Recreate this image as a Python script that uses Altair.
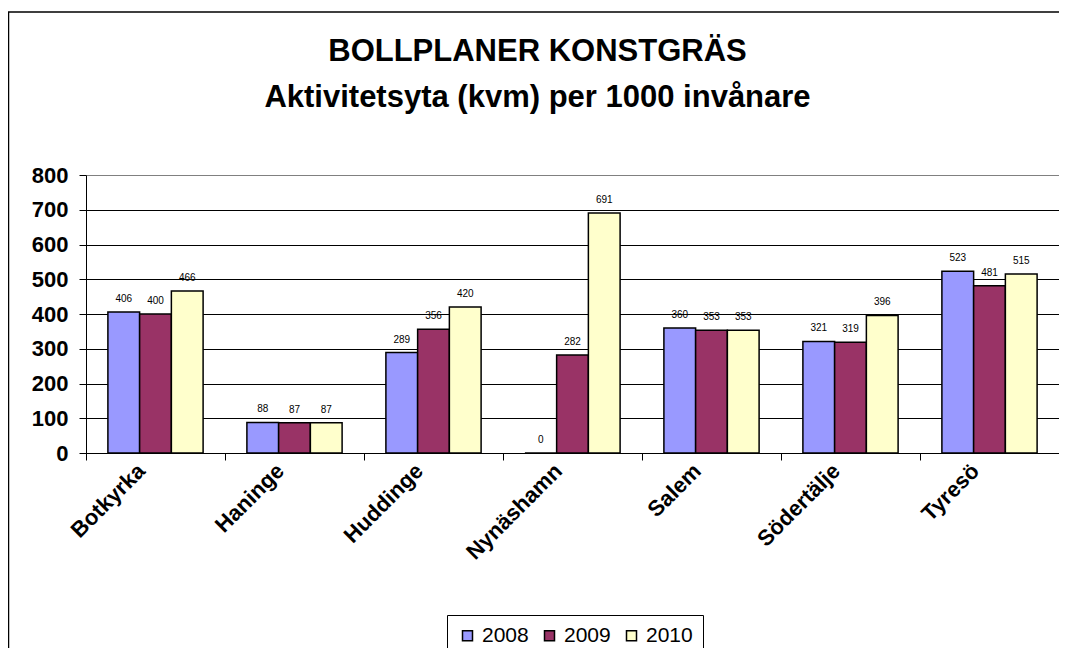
import altair as alt
import pandas as pd

categories = ["Botkyrka", "Haninge", "Huddinge", "Nynäshamn", "Salem", "Södertälje", "Tyresö"]
years = ["2008", "2009", "2010"]
v2008 = [406, 88, 289, 0, 360, 321, 523]
v2009 = [400, 87, 356, 282, 353, 319, 481]
v2010 = [466, 87, 420, 691, 353, 396, 515]
colors = ["#9999FF", "#993366", "#FFFFCC"]
y_ticks = [0, 100, 200, 300, 400, 500, 600, 700, 800]
title_lines = ["BOLLPLANER KONSTGRÄS", "Aktivitetsyta (kvm) per 1000 invånare"]

rows = []
for i, c in enumerate(categories):
    for yr, vals in zip(years, [v2008, v2009, v2010]):
        rows.append({"kommun": c, "year": yr, "value": vals[i]})
df = pd.DataFrame(rows)

FONT = "Liberation Sans"
W, H = 973, 278

x_scale = alt.Scale(paddingInner=0.315, paddingOuter=0.1575)
x_axis = alt.Axis(title=None, labelAngle=-45, labelAlign="right", labelBaseline="middle",
                  labelFont=FONT, labelFontSize=22, labelFontWeight="bold", labelColor="black",
                  ticks=False, domain=True, domainColor="black", domainWidth=1,
                  labelPadding=14, labelOffset=-14, labelLimit=0, labelOverlap=False, grid=False)
y_axis = alt.Axis(title=None, values=y_ticks, tickCount=9, labelFont=FONT, labelFontSize=22,
                  labelFontWeight="bold", labelColor="black", tickColor="black",
                  tickSize=7, labelPadding=11, domainColor="black",
                  labelOverlap=False, labelFlush=False,
                  grid=True, gridOpacity=1, gridWidth=1,
                  gridColor={"condition": {"test": "datum.value === 800", "value": "#808080"},
                             "value": "black"})
y_enc = alt.Y("value:Q", scale=alt.Scale(domain=[0, 800], nice=False), axis=y_axis)
xoff = alt.XOffset("year:N", sort=years, scale=alt.Scale(paddingInner=0, paddingOuter=0))
x_enc = alt.X("kommun:N", sort=categories, scale=x_scale, axis=x_axis)

bars = alt.Chart(df).mark_bar(stroke="black", strokeWidth=1.5).encode(
    x=x_enc,
    xOffset=xoff,
    y=y_enc,
    color=alt.Color("year:N", scale=alt.Scale(domain=years, range=colors),
                    legend=alt.Legend(title=None, orient="none", legendX=361, legendY=440,
                                      direction="horizontal", strokeColor="black", padding=10,
                                      fillColor="white", labelFont=FONT, labelFontSize=21,
                                      labelColor="black", symbolType="square", symbolSize=100,
                                      symbolStrokeColor="black", symbolStrokeWidth=1.5,
                                      symbolOpacity=1, labelOffset=4, columnPadding=10)),
)

labels = alt.Chart(df).mark_text(font=FONT, fontSize=10, baseline="alphabetic", dy=-10,
                                 color="black").encode(
    x=x_enc,
    xOffset=xoff,
    y=y_enc,
    text=alt.Text("value:Q"),
)

ticks = alt.Chart(pd.DataFrame({"b": list(range(len(categories) + 1))})).mark_point(opacity=0).encode(
    x=alt.X("b:Q", scale=alt.Scale(domain=[0, len(categories)], nice=False, zero=False),
            axis=alt.Axis(values=list(range(len(categories) + 1)), labels=False, domain=False,
                          grid=False, ticks=True, tickSize=7, tickColor="black", title=None,
                          orient="bottom")),
)

border = alt.Chart(pd.DataFrame({"a": [0]})).mark_rect(fillOpacity=0, stroke="black",
                                                       strokeWidth=1.5).encode(
    x=alt.value(-77.5), x2=alt.value(1300), y=alt.value(-163), y2=alt.value(1000)
)

chart = alt.layer(border, alt.layer(bars, labels), ticks).resolve_scale(x="independent").properties(
    width=W, height=H,
    title=alt.TitleParams(text=title_lines, font=FONT, fontSize=31, fontWeight="bold",
                          color="black", anchor="middle", frame="group", dx=-35, offset=0,
                          dy=103, lineHeight=46),
    autosize=alt.AutoSizeParams(type="none"),
    padding={"left": 78, "top": 167, "right": 0, "bottom": 195},
).configure_view(stroke="#808080", strokeWidth=2).configure(background="white")

chart.save("out.html", embed_options={"renderer": "svg", "actions": False})
